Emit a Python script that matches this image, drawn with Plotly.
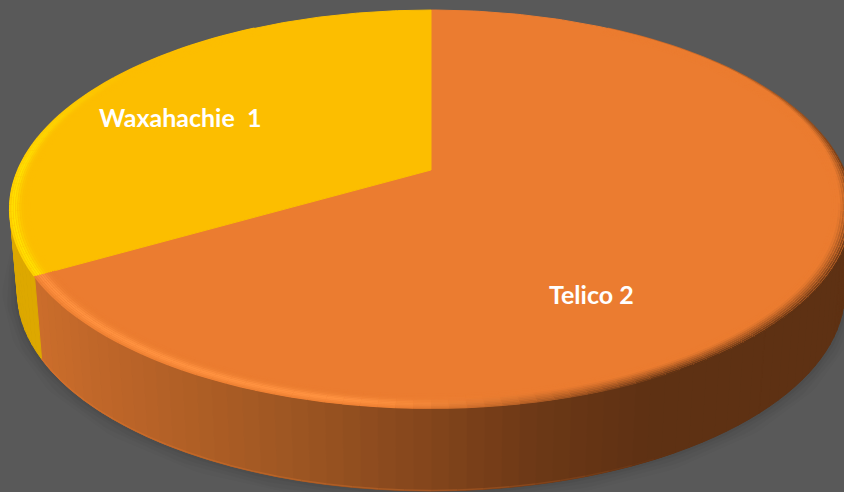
import re
import numpy as np
import plotly.graph_objects as go

# Chart data
categories = ["Telico", "Waxahachie"]
values = [2, 1]
label_gaps = [" ", "\u00a0\u00a0"]
top_colors = ["#EB7C30", "#FCBE00"]
label_pixels = [(591.5, 294), (180, 117)]

WIDTH, HEIGHT = 844, 492
CX, TILT_A, TILT_B, TILT_C, RX = 431.0, -158.0, 170.0, 0.196, 413.0
DEPTH, FOOT_SCALE = 83.0, 0.982


def project(theta_deg, r=1.0):
    """Perspective view of a disc point; theta runs clockwise from 12 o'clock."""
    th = np.radians(theta_deg)
    u, v = r * np.sin(th), r * np.cos(th)
    w = TILT_C * v + 1
    return CX + RX * u / w, (TILT_A * v + TILT_B) / w


def foot(theta_deg):
    x, y = project(theta_deg)
    return CX + (x - CX) * FOOT_SCALE, y + DEPTH


def to_rgb(c):
    if c.startswith("#"):
        return np.array([int(c[i:i + 2], 16) for i in (1, 3, 5)], float)
    return np.array([float(p) for p in re.findall(r"[\d.]+", c)[:3]])


def mix(a, b, k):
    k = float(np.clip(k, 0, 1))
    rgb = to_rgb(a) * (1 - k) + to_rgb(b) * k
    return "rgb(%d,%d,%d)" % tuple(np.round(rgb))


WALL_X = [30, 100, 200, 300, 420, 540, 650, 844]
WALL_RGB = ["#CC6E2B", "#BF6629", "#AE5E25", "#9C5522", "#85461C", "#6C3816", "#5E3113", "#5E3113"]


def wall_color(x):
    stack = np.array([to_rgb(c) for c in WALL_RGB])
    rgb = [np.interp(x, WALL_X, stack[:, i]) for i in range(3)]
    return "rgb(%d,%d,%d)" % tuple(np.round(rgb))


def poly(xs, ys, color):
    return go.Scatter(x=list(xs), y=list(ys), mode="lines", fill="toself", fillcolor=color,
                      line=dict(color=color, width=1), hoverinfo="skip", showlegend=False)


fig = go.Figure()

# Slice boundaries, clockwise from 12 o'clock
cuts = np.concatenate([[0], np.cumsum(values) / np.sum(values) * 360])

# Soft ground shadow around the foot of the disc
th_all = np.linspace(60, 300, 200)
fx, fy = foot(th_all)
for w, a in [(30, 0.018), (22, 0.025), (14, 0.03), (7, 0.04)]:
    fig.add_trace(go.Scatter(x=fx, y=fy, mode="lines", hoverinfo="skip", showlegend=False,
                             line=dict(color=f"rgba(0,0,0,{a})", width=w)))

# Outer wall, drawn as narrow strips so the shading can follow x
edges = np.arange(50, 300.01, 2.0)
for t0, t1 in zip(edges[:-1], edges[1:]):
    mid = (t0 + t1) / 2
    x0, y0 = project(t0)
    x1, y1 = project(t1)
    x2, y2 = foot(t1)
    x3, y3 = foot(t0)
    col = "#DDA800" if mid > cuts[1] else wall_color((x0 + x1) / 2)
    fig.add_trace(poly([x0, x1, x2, x3, x0], [y0, y1, y2, y3, y0], col))

# Thin lit edge along the bottom of the wall, fading out towards the dark side
bt = np.arange(150, 240.01, 3.0)
for t0, t1 in zip(bt[:-1], bt[1:]):
    xs, ys = foot(np.array([t0, t1]))
    glow = 0.3 * np.clip(((t0 + t1) / 2 - 150) / 30, 0, 1)
    col = mix(wall_color(xs.mean()), top_colors[0], glow)
    fig.add_trace(go.Scatter(x=xs, y=ys - 0.5, mode="lines", hoverinfo="skip", showlegend=False,
                             line=dict(color=col, width=1.5)))

# Top faces of the slices
for i, color in enumerate(top_colors):
    th = np.linspace(cuts[i], cuts[i + 1], 240)
    x, y = project(th)
    cx, cy = project(0.0, 0.0)
    fig.add_trace(poly(np.r_[cx, x, cx], np.r_[cy, y, cy], color))


# Bevel along the rim of the top face
def rim_color(theta, s):
    if theta > cuts[1]:
        strength = np.clip((305 - theta) / 35, 0, 1)
        return mix(top_colors[1], "#FFE000", strength * np.exp(-((s - 0.2) / 0.28) ** 2))
    col = top_colors[0]
    light = np.clip((theta - 165) / 25, 0, 1)
    dark = np.clip((185 - theta) / 35, 0, 1) * (0.25 + 0.75 * np.clip((theta - 50) / 50, 0, 1))
    col = mix(col, "#FF9240", light * np.exp(-((s - 0.32) / 0.28) ** 2))
    x, _ = project(theta)
    # the dark fringe widens from a hairline at the upper right to a soft band below
    reach = 0.1 + 0.65 * np.clip((theta - 55) / 50, 0, 1)
    return mix(col, wall_color(float(x)), dark * np.clip(1 - s / reach, 0, 1) ** 1.2)


radii = np.linspace(1.0, 0.955, 10)
bins = np.arange(30, 330.01, 2.0)
for r in radii:
    s = (1 - r) / 0.045
    for t0, t1 in zip(bins[:-1], bins[1:]):
        mid = (t0 + t1) / 2
        # keep the bevel inside its own slice
        t_a, t_b = t0, t1
        if t0 < cuts[1] < t1:
            t_b = cuts[1] if mid <= cuts[1] else t1
            t_a = t0 if mid <= cuts[1] else cuts[1]
        th = np.linspace(t_a, t_b, 3)
        x, y = project(th, r)
        fig.add_trace(go.Scatter(x=x, y=y, mode="lines", hoverinfo="skip", showlegend=False,
                                 line=dict(color=rim_color(mid, s), width=1.8)))

# Data labels
annotations = []
for cat, val, gap, (px, py) in zip(categories, values, label_gaps, label_pixels):
    annotations.append(dict(x=px, y=py, xref="x", yref="y", text=f"<b>{cat}{gap}{val}</b>",
                            showarrow=False, font=dict(family="Lato", size=25, color="white")))

fig.update_layout(
    width=WIDTH, height=HEIGHT, margin=dict(l=0, r=0, t=0, b=0),
    paper_bgcolor="#595959", plot_bgcolor="#595959", showlegend=False,
    xaxis=dict(range=[0, WIDTH], visible=False, fixedrange=True),
    yaxis=dict(range=[HEIGHT, 0], visible=False, fixedrange=True),
    annotations=annotations,
)
fig.write_html("out.html", config={"displayModeBar": False})
